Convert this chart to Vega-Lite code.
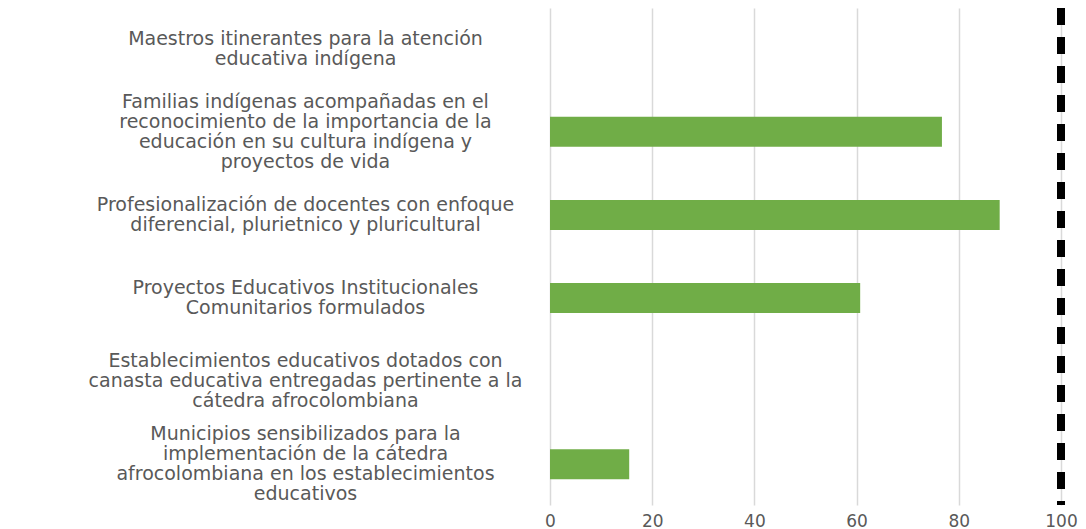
{
  "$schema": "https://vega.github.io/schema/vega-lite/v6.json",
  "width": 511,
  "height": 497,
  "autosize": {"type": "none"},
  "padding": {"left": 550, "top": 8, "right": 25, "bottom": 24},
  "background": "white",
  "config": {"view": {"stroke": null}},
  "data": {
    "values": [
      {"label": "Maestros itinerantes para la atención|educativa indígena", "value": 0},
      {"label": "Familias indígenas acompañadas en el|reconocimiento de la importancia de la|educación en su cultura indígena y|proyectos de vida", "value": 76.7},
      {"label": "Profesionalización de docentes con enfoque|diferencial, plurietnico y pluricultural", "value": 88.0},
      {"label": "Proyectos Educativos Institucionales|Comunitarios formulados", "value": 60.7},
      {"label": "Establecimientos educativos dotados con|canasta educativa entregadas pertinente a la|cátedra afrocolombiana", "value": 0},
      {"label": "Municipios sensibilizados para la|implementación de la cátedra|afrocolombiana en los establecimientos|educativos", "value": 15.5}
    ]
  },
  "layer": [
    {
      "mark": {"type": "bar", "color": "#70AD47"},
      "encoding": {
        "y": {
          "field": "label",
          "type": "nominal",
          "sort": null,
          "scale": {"paddingInner": 0.64, "paddingOuter": 0.31},
          "axis": {
            "title": null,
            "labelExpr": "split(datum.value, '|')",
            "labelAlign": "center",
            "labelBaseline": "middle",
            "labelPadding": 245,
            "labelOffset": {
              "condition": [
                {"test": "length(split(datum.value, '|')) == 4", "value": -30},
                {"test": "length(split(datum.value, '|')) == 3", "value": -20}
              ],
              "value": -10
            },
            "tickSize": 0,
            "ticks": false,
            "domain": false,
            "labelFont": "DejaVu Sans",
            "labelFontSize": 19,
            "labelLineHeight": 20,
            "labelColor": "#595959",
            "labelLimit": 0
          }
        },
        "x": {
          "field": "value",
          "type": "quantitative",
          "scale": {"domain": [0, 100], "nice": false},
          "axis": {
            "title": null,
            "values": [0, 20, 40, 60, 80, 100],
            "grid": true,
            "gridColor": "#d9d9d9",
            "gridWidth": 1.5,
            "domain": false,
            "ticks": false,
            "tickSize": 0,
            "labelPadding": 8,
            "labelBaseline": "top",
            "labelFont": "DejaVu Sans",
            "labelFontSize": 17,
            "labelColor": "#595959",
            "labelFlush": false
          }
        }
      }
    },
    {
      "mark": {"type": "rule", "color": "black", "strokeWidth": 7.5, "strokeDash": [17, 12]},
      "encoding": {"x": {"datum": 100}}
    }
  ]
}
